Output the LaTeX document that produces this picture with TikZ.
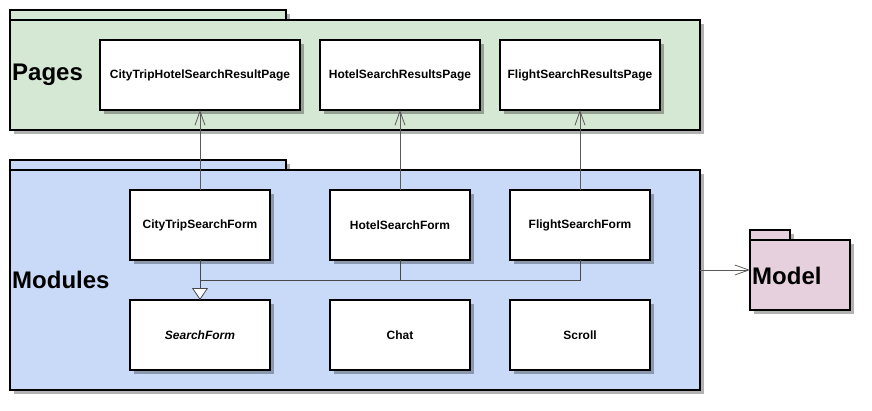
\documentclass[tikz,border=0pt]{standalone}
\usepackage{fontspec}
\setmainfont{Liberation Sans}
\usetikzlibrary{shadows,arrows.meta}
\definecolor{pagesfill}{RGB}{213,232,212}
\definecolor{modfill}{RGB}{201,218,248}
\definecolor{modelfill}{RGB}{230,208,222}
\definecolor{conn}{RGB}{90,90,90}
\tikzset{
  shd/.style={drop shadow={shadow xshift=4pt, shadow yshift=-4pt, fill=black, opacity=0.3}},
  pkg/.style={draw=black, line width=1.5pt, shd, inner sep=0pt, outer sep=0pt},
  box/.style={draw=black, line width=1.5pt, fill=white, shd, inner sep=0pt, outer sep=0pt,
    minimum height=70pt, font=\bfseries\fontsize{12}{14}\selectfont},
  pkglabel/.style={anchor=west, inner sep=2pt, font=\bfseries\fontsize{24}{28}\selectfont},
  dep/.style={draw=conn, line width=0.8pt, -{Straight Barb[length=14pt,width=10pt,line width=0.8pt]}},
  lnk/.style={draw=conn!80!black, line width=0.8pt},
  inh/.style={draw=conn!80!black, line width=0.8pt, -{Triangle[open,length=12pt,width=16pt,fill=white,line width=0.8pt]}}
}
\begin{document}
\begin{tikzpicture}[x=1pt,y=-1pt]
\useasboundingbox (0,0) rectangle (872,410);
% Pages package
\node[pkg, fill=pagesfill, minimum width=276pt, minimum height=10pt] (pagesTab) at (148,15) {};
\node[pkg, fill=pagesfill, minimum width=690pt, minimum height=110pt] (pagesBody) at (355,75) {};
\node[pkglabel] (pagesLbl) at (10,75) {Pages};
% Modules package
\node[pkg, fill=modfill, minimum width=276pt, minimum height=10pt] (modTab) at (148,165) {};
\node[pkg, fill=modfill, minimum width=690pt, minimum height=220pt] (modBody) at (355,280) {};
\node[pkglabel] (modLbl) at (10,280) {Modules};
% Model package
\node[pkg, fill=modelfill, minimum width=40pt, minimum height=10pt] (modelTab) at (770,235) {};
\node[pkg, fill=modelfill, minimum width=100pt, minimum height=70pt] (modelBody) at (800,275) {};
\node[pkglabel] (modelLbl) at (750,276) {Model};
% Page boxes
\node[box, minimum width=200pt] (p1) at (200,75) {CityTripHotelSearchResultPage};
\node[box, minimum width=160pt] (p2) at (400,75) {HotelSearchResultsPage};
\node[box, minimum width=160pt] (p3) at (580,75) {FlightSearchResultsPage};
% Module boxes
\node[box, minimum width=140pt] (cf) at (200,225) {CityTripSearchForm};
\node[box, minimum width=140pt] (hf) at (400,225) {HotelSearchForm};
\node[box, minimum width=140pt] (ff) at (580,225) {FlightSearchForm};
\node[box, minimum width=140pt, font=\bfseries\itshape\fontsize{12}{14}\selectfont] (sf) at (200,335) {SearchForm};
\node[box, minimum width=140pt] (chat) at (400,335) {Chat};
\node[box, minimum width=140pt] (scroll) at (580,335) {Scroll};
% Connectors
\draw[dep] (cf.north) -- (p1.south);
\draw[dep] (hf.north) -- (p2.south);
\draw[dep] (ff.north) -- (p3.south);
\coordinate (join) at (200,280);
\draw[lnk] (hf.south) |- (join);
\draw[lnk] (ff.south) |- (join);
\draw[inh] (cf.south) -- (sf.north);
\draw[dep] ([yshift=10pt]modBody.east) -- ([yshift=5pt]modelBody.west);
\end{tikzpicture}
\end{document}
